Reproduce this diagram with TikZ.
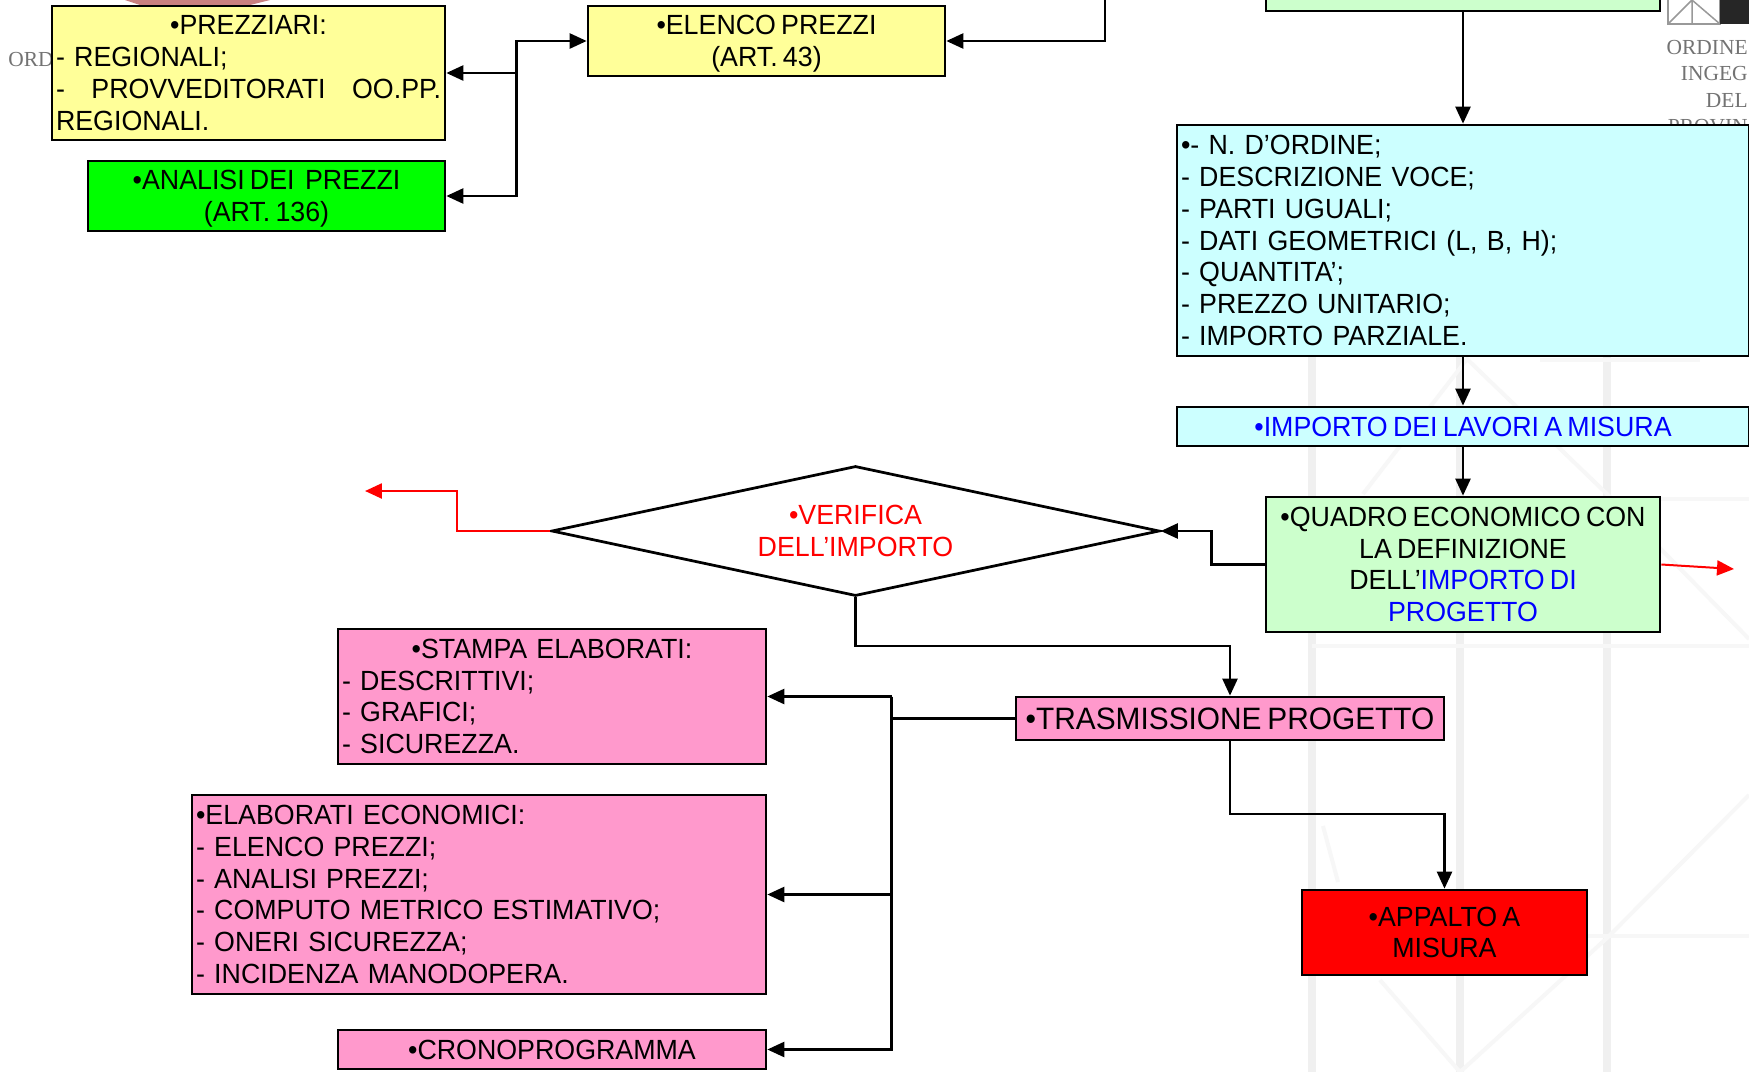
\documentclass[tikz,border=0pt]{standalone}
\usepackage{fontspec}
\usepackage{xcolor}
\setmainfont[FakeStretch=0.965,WordSpace=0.7]{Liberation Sans}
\newfontfamily\ghostfont{Liberation Serif}
\usetikzlibrary{arrows.meta,shapes.geometric}
\definecolor{prezzyellow}{HTML}{FFFF99}
\definecolor{analisigreen}{HTML}{00FF00}
\definecolor{misuracyan}{HTML}{CCFFFF}
\definecolor{quadrogreen}{HTML}{CCFFCC}
\definecolor{stampapink}{HTML}{FF99CC}
\definecolor{ghostgrey}{HTML}{F0F0F0}
\definecolor{ghostpale}{HTML}{F7F7F7}
\definecolor{fotored}{HTML}{C98080}
\newcommand{\topgap}{\rule{0pt}{13.8pt}}
\tikzset{
  voce/.style 2 args={draw, line width=0.055cm, inner xsep=0.08cm, inner ysep=0pt,
    minimum width=#1 cm, minimum height=#2 cm, align=center,
    font=\fontsize{15.8}{18.1}\selectfont},
  elenco/.style={align=left, text width=#1 cm},
  freccia/.style={draw, line width=0.05cm, -{Triangle[length=0.34cm,width=0.3cm]}},
  linea/.style={draw, line width=0.05cm},
  ghost/.style={ghostgrey, line width=0.16cm},
  ghostthin/.style={ghostpale, line width=0.08cm},
  ghosttext/.style={text=black!55, font=\ghostfont\fontsize{12.2}{15}\selectfont, inner sep=0pt}
}
\begin{document}
\begin{tikzpicture}[x=0.02cm,y=-0.02cm]
        \clip (0,0) rectangle (1749,1072);
        \fill [white] (0,0) rectangle (1749,1072);

        % faint drawing behind the chart
        \foreach \xg in {1312,1460,1607}
            \draw [ghost] (\xg,356) -- (\xg,1072);
        \foreach \yg in {499,646,936}
            \draw [ghostthin] (1312,\yg) -- (1749,\yg);
        \draw [ghostthin] (1363,494) -- (1467,359) -- (1607,494) -- (1749,639);
        \draw [ghostthin] (1749,795) -- (1607,938) -- (1460,1072) -- (1380,980);
        \draw [ghostthin] (1323,826) -- (1338,882);
        \draw [ghostthin] (1540,360) -- (1700,360);
        \fill [fotored] (125,0) -- (270,0) -- (250,5) -- (140,5) -- cycle;
        \draw [black!40, line width=0.03cm] (1668,24) rectangle (1720,-2);
        \draw [black!40, line width=0.03cm] (1692,0) -- (1692,24) (1668,24) -- (1692,0) -- (1720,24);
        \fill [black!85] (1720,0) rectangle (1749,24);
        \node [ghosttext] (ord) at (31,60) {ORD};
        \node [ghosttext, anchor=east] (ordine) at (1748,48) {ORDINE};
        \node [ghosttext, anchor=east] (ingeg) at (1748,74) {INGEG};
        \node [ghosttext, anchor=east] (del) at (1748,101) {DEL};
        \node [ghosttext, anchor=east] (prov) at (1748,127) {PROVIN};

        \node [voce={7.86}{2.68}, fill=prezzyellow, elenco=7.7] (prezziari) at (248.5,73)
            {\centering •PREZZIARI:\par\raggedright - REGIONALI;\par
             \hbox to 7.7cm{-\hfill PROVVEDITORATI\hfill OO.PP.}\par REGIONALI.};
        \node [voce={7.14}{1.4}, fill=analisigreen] (analisi) at (266.5,196)
            {\topgap •ANALISI DEI\ \ PREZZI\\(ART. 136)};
        \node [voce={7.14}{1.4}, fill=prezzyellow] (elencop) at (766.5,41)
            {\topgap •ELENCO PREZZI\\(ART. 43)};
        \node [voce={7.88}{1.64}, fill=quadrogreen] (computo) at (1463,-30) {};
        \node [voce={11.44}{4.62}, fill=misuracyan, elenco=11.28] (voci) at (1463,240.5)
            {•- N. D’ORDINE;\\- DESCRIZIONE VOCE;\\- PARTI UGUALI;\\- DATI GEOMETRICI (L, B, H);\\- QUANTITA’;\\- PREZZO UNITARIO;\\- IMPORTO PARZIALE.};
        \node [voce={11.44}{0.78}, fill=misuracyan, text=blue] (importo) at (1463,426.5)
            {•IMPORTO DEI LAVORI A MISURA};
        \node [voce={7.88}{2.7}, fill=quadrogreen] (quadro) at (1463,564.5)
            {•QUADRO ECONOMICO CON\\LA DEFINIZIONE\\DELL’\textcolor{blue}{IMPORTO DI}\\\textcolor{blue}{PROGETTO}};
        \node [voce={12.16}{2.6}, diamond, aspect=4.68, text=red, inner xsep=0pt] (verifica) at (855.5,531)
            {•VERIFICA\\DELL’IMPORTO};
        \node [voce={8.56}{2.7}, fill=stampapink, elenco=8.4] (stampa) at (552,696.5)
            {\centering •STAMPA ELABORATI:\par\raggedright - DESCRITTIVI;\par - GRAFICI;\par - SICUREZZA.};
        \node [voce={11.48}{3.98}, fill=stampapink, elenco=11.32] (elaborati) at (479,894.5)
            {•ELABORATI ECONOMICI:\\- ELENCO PREZZI;\\- ANALISI PREZZI;\\- COMPUTO METRICO ESTIMATIVO;\\- ONERI SICUREZZA;\\- INCIDENZA MANODOPERA.};
        \node [voce={8.56}{0.78}, fill=stampapink] (crono) at (552,1049.5) {•CRONOPROGRAMMA};
        \node [voce={8.56}{0.86}, fill=stampapink, font=\fontsize{17.6}{19}\selectfont] (trasm) at (1230,718.5)
            {•TRASMISSIONE PROGETTO};
        \node [voce={5.7}{1.7}, fill=red] (appalto) at (1444.5,932.5) {•APPALTO A\\MISURA};

        \coordinate (prezzibus) at (516.5,73);
        \coordinate (elencoin) at (1105,0);
        \coordinate (ritorno) at (365,491);
        \coordinate (ritornoq) at (1734,569);
        \coordinate (bendtrasm) at (1230,646);
        \coordinate (bendapp) at (1230,814);
        \coordinate (stampabus) at (891.5,696.5);
        \coordinate (trasmbus) at (891.5,718.5);

        \draw [freccia] (elencoin) |- (elencop.east);
        \draw [freccia] (analisi.east -| prezzibus) |- (elencop.west);
        \draw [freccia] (prezzibus) -- (prezzibus -| prezziari.east);
        \draw [freccia] (prezzibus) |- (analisi.east);
        \draw [freccia] (computo.south) -- (voci.north);
        \draw [freccia] (voci.south) -- (importo.north);
        \draw [freccia] (importo.south) -- (quadro.north);
        \draw [freccia] (quadro.west) -- ++(-53,0) |- (verifica.east);
        \draw [freccia, red] (verifica.west) -- ++(-93,0) |- (ritorno);
        \draw [freccia, red, line width=0.04cm] (quadro.east) -- (ritornoq);
        \draw [freccia] (verifica.south) |- (bendtrasm) -- (trasm.north);
        \draw [freccia] (trasm.south) -- (bendapp) -| (appalto.north);
        \draw [linea] (trasm.west) -- (trasmbus);
        \draw [freccia] (stampabus) -- (stampa.east);
        \draw [freccia] (stampabus) |- (elaborati.east);
        \draw [freccia] (stampabus) |- (crono.east);
    \end{tikzpicture}
\end{document}
